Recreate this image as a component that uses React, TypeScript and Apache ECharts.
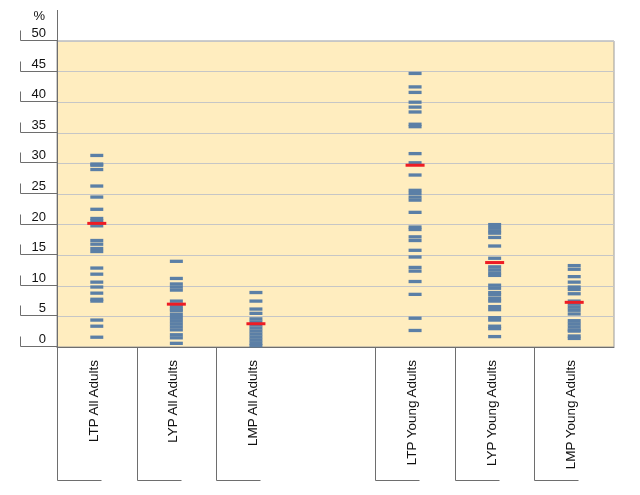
import React, { useEffect, useRef } from 'react';
import * as echarts from 'echarts';

const categories = ['LTP All Adults', 'LYP All Adults', 'LMP All Adults', '', 'LTP Young Adults', 'LYP Young Adults', 'LMP Young Adults'];

const ltpAll = [31.3, 29.9, 29.7, 29.0, 26.3, 24.5, 22.5, 21.0, 20.6, 20.2, 19.8, 17.4, 16.8, 16.1, 15.6, 12.9, 11.9, 10.6, 9.8, 8.8, 7.8, 7.5, 4.4, 3.4, 1.6];
const lypAll = [14.0, 11.2, 10.3, 9.8, 9.3, 7.5, 7.0, 6.6, 6.2, 5.9, 5.3, 4.8, 4.3, 3.8, 3.3, 2.8, 2.0, 1.5, 0.6];
const lmpAll = [8.9, 7.5, 6.2, 5.5, 4.6, 4.1, 3.6, 3.1, 2.6, 2.1, 1.6, 1.1, 0.6, 0.2];
const ltpYoung = [44.7, 42.5, 41.6, 40.0, 39.2, 38.4, 36.4, 36.0, 31.6, 30.1, 28.1, 25.6, 25.1, 24.5, 24.0, 22.0, 19.6, 19.2, 18.0, 17.4, 15.8, 14.7, 13.0, 12.4, 10.7, 8.6, 4.7, 2.7];
const lypYoung = [20.0, 19.5, 19.0, 18.6, 17.9, 16.5, 14.5, 13.1, 12.6, 12.1, 11.7, 10.1, 9.6, 8.9, 8.5, 7.9, 7.5, 6.6, 6.1, 4.8, 4.4, 3.4, 3.0, 1.7];
const lmpYoung = [13.3, 12.7, 11.5, 10.6, 9.8, 9.4, 8.7, 7.5, 7.0, 6.5, 6.0, 5.4, 4.3, 3.8, 3.3, 2.8, 2.6, 1.8, 1.4];

const stripValues: number[][] = [ltpAll, lypAll, lmpAll, [], ltpYoung, lypYoung, lmpYoung];
const medians: (number | null)[] = [20.2, 7.0, 3.8, null, 29.7, 13.8, 7.3];
const yTicks = [0, 5, 10, 15, 20, 25, 30, 35, 40, 45, 50];

const font = "'Liberation Sans', Arial, Helvetica, sans-serif";
const axisGray = '#6e6e6e';

export default function App() {
  const ref = useRef<HTMLDivElement>(null);
  useEffect(() => {
    document.body.style.margin = '0';
    const chart = echarts.init(ref.current!, null, { renderer: 'svg' });

    const stripData: number[][] = [];
    stripValues.forEach((vals, i) => vals.forEach((v) => stripData.push([i, v])));
    const medianData: number[][] = [];
    medians.forEach((m, i) => { if (m != null) medianData.push([i, m]); });
    const bracketCats: number[][] = [];
    categories.forEach((c, i) => { if (c) bracketCats.push([i, 0]); });

    const crisp = (v: number) => Math.round(v) + 0.5;

    chart.setOption({
      animation: false,
      textStyle: { fontFamily: font },
      grid: {
        left: 57, right: 26, top: 41, bottom: 148,
        show: true, backgroundColor: '#FFEDBF', borderColor: '#9a9a9a', borderWidth: 1,
      },
      xAxis: {
        type: 'category',
        data: categories,
        boundaryGap: true,
        axisLine: { show: true, lineStyle: { color: axisGray } },
        axisTick: { show: false },
        axisLabel: {
          rotate: 90, margin: 13, interval: 0, fontSize: 13.5, color: '#111',
          fontFamily: font, verticalAlign: 'bottom', lineHeight: 7,
        },
        splitLine: { show: false },
      },
      yAxis: {
        type: 'value', min: 0, max: 50, interval: 5,
        name: '%', nameLocation: 'end', nameGap: 19,
        nameTextStyle: { fontSize: 13, color: '#111', fontFamily: font, align: 'right', padding: [0, 12, 0, 0] },
        axisLine: { show: false },
        axisTick: { show: false },
        axisLabel: {
          margin: 11, fontSize: 13, color: '#111', fontFamily: font,
          verticalAlign: 'bottom', padding: [0, 0, 2, 0],
        },
        splitLine: { show: true, lineStyle: { color: '#c6c6c6', width: 1 } },
      },
      series: [
        {
          type: 'custom',
          name: 'yAxisLine',
          silent: true,
          clip: false,
          data: [[0, 0]],
          renderItem: (params: any, api: any) => {
            const cs = params.coordSys;
            const x = crisp(cs.x);
            return {
              type: 'line',
              shape: { x1: x, y1: cs.y - 31, x2: x, y2: cs.y + cs.height + 13 },
              style: { stroke: axisGray, lineWidth: 1 },
            };
          },
          z: 5,
        },
        {
          type: 'custom',
          name: 'yBrackets',
          silent: true,
          clip: false,
          data: yTicks.map((t) => [0, t]),
          renderItem: (params: any, api: any) => {
            const cs = params.coordSys;
            const y = crisp(api.coord([0, api.value(1)])[1]) - 1;
            const xl = crisp(cs.x - 37);
            return {
              type: 'polyline',
              shape: { points: [[xl, y - 10], [xl, y], [crisp(cs.x), y]] },
              style: { stroke: axisGray, lineWidth: 1, fill: null },
            };
          },
          z: 5,
        },
        {
          type: 'custom',
          name: 'xBrackets',
          silent: true,
          clip: false,
          data: bracketCats,
          renderItem: (params: any, api: any) => {
            const cs = params.coordSys;
            const cx = api.coord([api.value(0), 0])[0];
            const bw = api.size([1, 0])[0];
            const x0 = crisp(cx - bw / 2);
            const yb = cs.y + cs.height;
            const y1 = crisp(yb + 133);
            return {
              type: 'polyline',
              shape: { points: [[x0, yb], [x0, y1], [x0 + 44, y1]] },
              style: { stroke: axisGray, lineWidth: 1, fill: null },
            };
          },
          z: 5,
        },
        {
          type: 'scatter',
          name: 'values',
          symbol: 'rect',
          symbolSize: [13, 3.3],
          itemStyle: { color: '#5b7fa6', opacity: 1 },
          data: stripData,
          z: 3,
        },
        {
          type: 'scatter',
          name: 'median',
          symbol: 'rect',
          symbolSize: [19, 3],
          itemStyle: { color: '#ee1c24', opacity: 1 },
          data: medianData,
          z: 4,
        },
      ],
    });
    return () => chart.dispose();
  }, []);
  return <div ref={ref} style={{ position: 'fixed', left: 0, top: 0, width: 640, height: 495 }} />;
}
